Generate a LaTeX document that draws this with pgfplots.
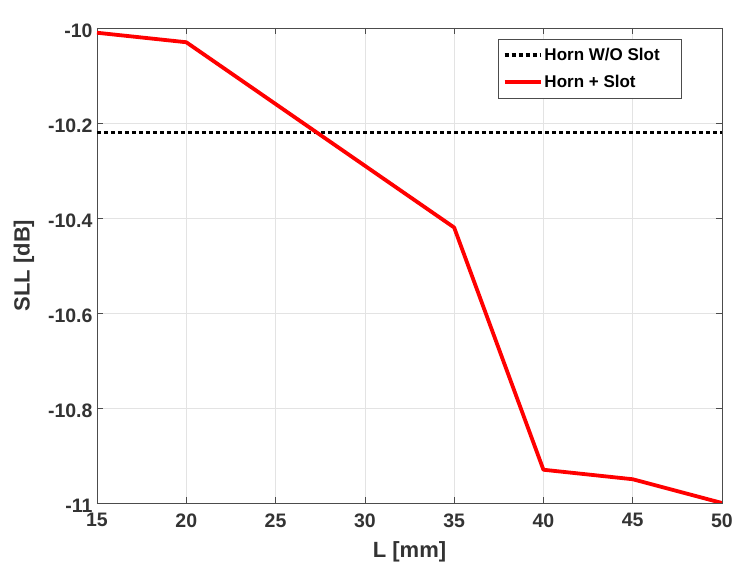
\documentclass[border=0pt]{standalone}
\usepackage{fontspec}
\setmainfont{Liberation Sans}
\usepackage{pgfplots}
\pgfplotsset{compat=1.18}
\begin{document}
\begin{tikzpicture}
\path[use as bounding box] (-97pt,-64pt) rectangle (635pt,503pt);
\begin{axis}[name=ax, at={(0,0)}, anchor=south west,
  scale only axis, width=625pt, height=475pt,
  xmin=15, xmax=50, ymin=-11, ymax=-10,
  xtick={15,20,25,30,35,40,45,50},
  ytick={-11,-10.8,-10.6,-10.4,-10.2,-10},
  /pgf/number format/assume math mode=true,
  tick label style={font=\fontsize{19.5}{19.5}\selectfont\bfseries, text=black!80},
  xticklabel style={yshift=-7pt},
  yticklabel style={yshift=-3pt, xshift=-1pt},
  xlabel={L [mm]}, ylabel={SLL [dB]},
  every axis x label/.style={at={(axis description cs:0.5,-0.103)}, anchor=center, font=\fontsize{22}{22}\selectfont\bfseries, text=black!80},
  every axis y label/.style={at={(axis description cs:-0.117,0.5)}, rotate=90, anchor=center, font=\fontsize{22}{22}\selectfont\bfseries, text=black!80},
  grid=major, grid style={gray!22, line width=0.5pt},
  axis line style={black!70, line width=0.8pt},
  tick style={black!70, line width=0.6pt}, tick align=inside, major tick length=6pt,
  legend style={at={(0.936,0.977)}, anchor=north east, draw=black!70, line width=0.6pt,
    font=\fontsize{17}{17}\selectfont\bfseries, row sep=9pt, inner xsep=4pt, inner ysep=7pt,
    cells={anchor=west}},
  legend image code/.code={\draw[#1] (0pt,0pt) -- (36pt,0pt);},
]
\addplot[black, line width=3.5pt, dash pattern=on 4pt off 3pt] coordinates {(15,-10.22) (50,-10.22)};
\addlegendentry{Horn W/O Slot\kern16pt\mbox{}}
\addplot[red, line width=3.8pt, line join=round] coordinates {
(15,-10.01) (20,-10.03) (35,-10.42) (40,-10.93) (45,-10.95) (50,-11.0)};
\addlegendentry{Horn + Slot}
\end{axis}
\end{tikzpicture}
\end{document}
